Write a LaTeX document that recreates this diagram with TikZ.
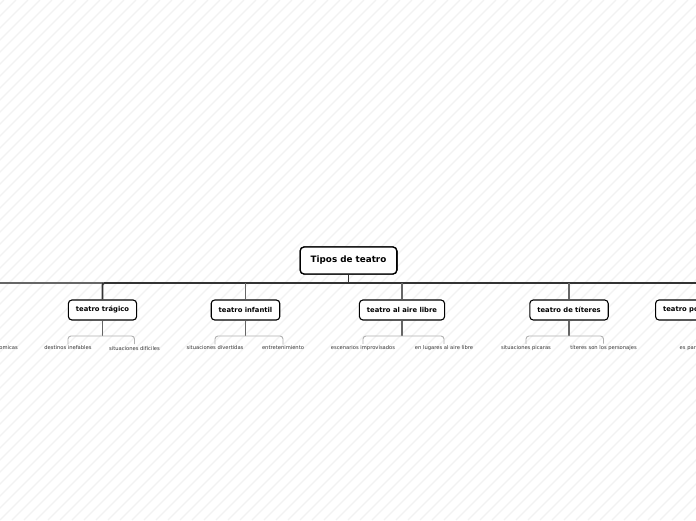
\documentclass[tikz,border=0pt]{standalone}
\usepackage{fontspec}
\setmainfont{DejaVu Sans}
\begin{document}
\begin{tikzpicture}[x=1pt,y=-1pt,
  rootbox/.style={draw=black,line width=1.3pt,rounded corners=4pt,fill=white,
    font=\fontsize{8.8}{10}\selectfont\bfseries,inner xsep=10.5pt,minimum height=27pt},
  childbox/.style={draw=black,line width=1.1pt,rounded corners=3.5pt,fill=white,
    font=\fontsize{6.8}{8}\selectfont\bfseries,inner xsep=7.5pt,minimum height=20pt},
  leaf/.style={font=\fontsize{5.2}{6}\selectfont,text=black!80,inner sep=1.5pt},
  barline/.style={draw=black!80,line width=1.9pt},
  sideline/.style={draw=black!60,line width=1.2pt},
  stemline/.style={draw=black!60,line width=1.2pt},
  brkline/.style={draw=black!30,line width=0.9pt,rounded corners=3pt}]
\useasboundingbox (0,0) rectangle (696,520);
\clip (0,0) rectangle (696,520);
\fill[white] (0,0) rectangle (696,520);
\foreach \i in {-528,-516,...,700}{
  \draw[black!5,line width=1.2pt] (\i,520) -- (\i+520,0);
}
% coordinates of the bar
\coordinate (barL) at (0,283);
\coordinate (barR) at (696,283);
\coordinate (brk) at (0,336);
% root
\node[rootbox] (root) at (348.5,260.5) {Tipos de teatro};
% children
\node[childbox] (c1) at (102.5,310) {teatro trágico};
\node[childbox] (c2) at (245.5,310) {teatro infantil};
\node[childbox] (c3) at (402,310) {teatro al aire libre};
\node[childbox] (c4) at (569,310) {teatro de títeres};
\node[childbox,anchor=west] (c5) at (655,310) {teatro popular};
% leaves
\node[leaf,anchor=east] (l0) at (19.5,348) {situaciones comicas};
\node[leaf] (l1a) at (68,348) {destinos inefables};
\node[leaf] (l1b) at (134.5,348) {situaciones difíciles};
\node[leaf] (l2a) at (215,348) {situaciones divertidas};
\node[leaf] (l2b) at (283,348) {entretenimiento};
\node[leaf] (l3a) at (363,348) {escenarios improvisados};
\node[leaf] (l3b) at (444,348) {en lugares al aire libre};
\node[leaf] (l4a) at (526,348) {situaciones picaras};
\node[leaf] (l4b) at (603.5,348) {títeres son los personajes};
\node[leaf,anchor=west] (l5) at (678,348) {es para todos};
% connectors
\draw[barline] (root.south) -- (root.south |- barL);
\draw[sideline] (barL) -- (c1.north |- barL);
\draw[barline,rounded corners=2pt] (c1.north) -- (c1.north |- barL) -- (barR);
\foreach \c in {c2,c3,c4}{
  \draw[stemline] (\c.north |- barL) -- (\c.north);
}
\foreach \c/\a/\b in {c1/l1a/l1b,c2/l2a/l2b,c3/l3a/l3b,c4/l4a/l4b}{
  \draw[stemline] (\c.south) -- (\c.south |- brk);
  \draw[brkline] (\a.north) -- (\a.north |- brk) -- (\b.north |- brk) -- (\b.north);
}
% redraw boxes on top
\node[rootbox] at (root) {Tipos de teatro};
\end{tikzpicture}
\end{document}
